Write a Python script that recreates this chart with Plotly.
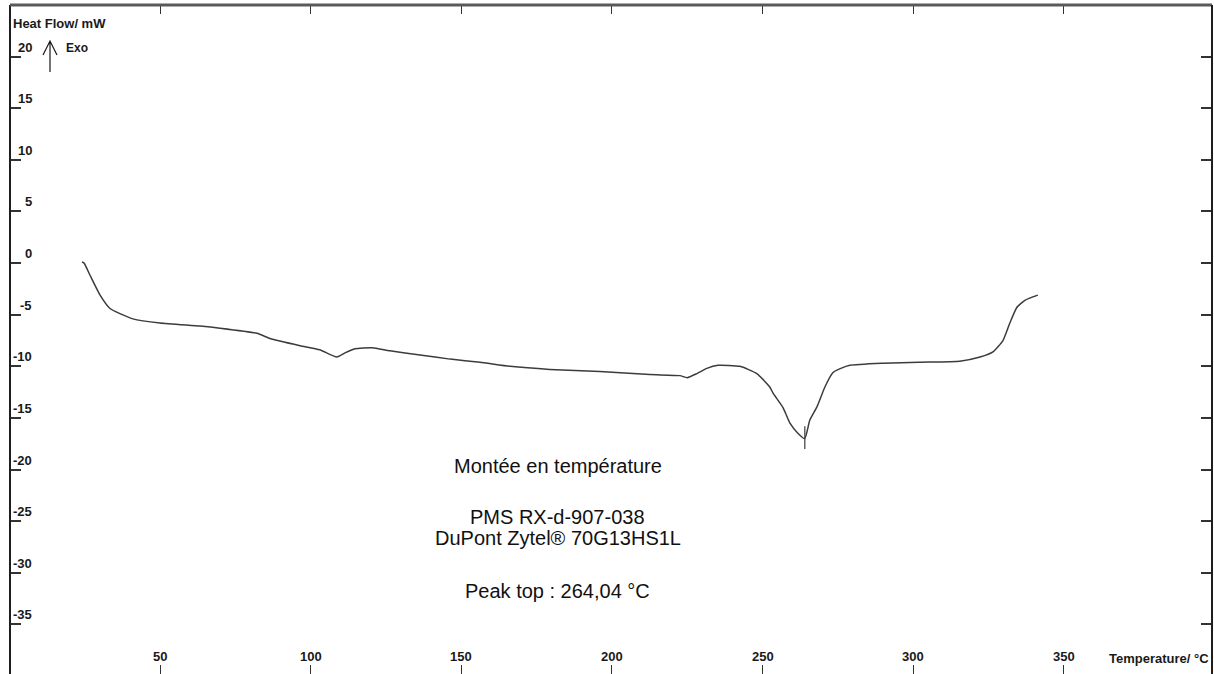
import plotly.graph_objects as go

# ---- data ----
temperature = [24.1, 24.8, 26.8, 30.1, 33.4, 36.7, 41.0, 50.0, 63.3, 69.9, 82.2, 86.5,
               96.5, 103.0, 108.7, 111.4, 114.7, 120.4, 126.3, 136.3, 146.3, 156.2,
               166.2, 179.4, 196.0, 212.6, 222.6, 225.0, 228.2, 231.5, 235.2, 242.5,
               248.1, 252.4, 253.5, 256.8, 259.1, 261.8, 264.0, 265.7, 268.1, 270.7,
               273.4, 276.0, 279.0, 290.0, 302.0, 315.5, 322.2, 326.5, 329.8, 332.1,
               334.4, 337.1, 341.4]
heat_flow = [0.1, 0.0, -1.2, -3.1, -4.4, -4.9, -5.4, -5.8, -6.1, -6.3, -6.8, -7.3,
             -8.0, -8.4, -9.1, -8.7, -8.3, -8.2, -8.5, -8.9, -9.3, -9.6,
             -10.0, -10.3, -10.5, -10.8, -10.9, -11.1, -10.7, -10.2, -9.9, -10.0,
             -10.7, -12.0, -12.6, -14.0, -15.5, -16.5, -17.0, -15.2, -13.9, -12.0,
             -10.6, -10.2, -9.9, -9.7, -9.6, -9.5, -9.1, -8.6, -7.5, -5.8,
             -4.3, -3.6, -3.1]

peak_top = 264.04
peak_marker_y = [-15.8, -18.0]

x_ticks = [50, 100, 150, 200, 250, 300, 350]
y_ticks = [20, 15, 10, 5, 0, -5, -10, -15, -20, -25, -30, -35]

x_range = [0.2, 399.2]
y_range = [-39.8, 25.0]

info_lines = [
    ("Montée en température", -19.7),
    ("PMS RX-d-907-038", -24.6),
    ("DuPont Zytel® 70G13HS1L", -26.6),
    ("Peak top : 264,04 °C", -31.8),
]

fig = go.Figure()
fig.add_trace(go.Scatter(x=temperature, y=heat_flow, mode="lines",
                         line=dict(color="#3c3c3c", width=1.5, shape="spline",
                                   smoothing=0.5),
                         hoverinfo="skip"))
fig.add_trace(go.Scatter(x=[peak_top, peak_top], y=peak_marker_y, mode="lines",
                         line=dict(color="#3c3c3c", width=1.2), hoverinfo="skip"))

FONT = "Liberation Sans, Arial, sans-serif"
lab_font = dict(family=FONT, size=13, color="#1a1a1a")

ann = []
for v in y_ticks:
    ann.append(dict(x=0, xref="paper", y=v, yref="y", text="<b>%d</b>" % v,
                    showarrow=False, xanchor="right", yanchor="bottom",
                    xshift=24, yshift=0, font=lab_font))
for v in x_ticks:
    ann.append(dict(x=v, xref="x", y=0, yref="paper", text="<b>%d</b>" % v,
                    showarrow=False, xanchor="center", yanchor="bottom",
                    yshift=8, font=lab_font))
ann.append(dict(x=1, xref="paper", y=0, yref="paper", text="<b>Temperature/ °C</b>",
                showarrow=False, xanchor="right", yanchor="bottom", xshift=-1,
                yshift=6, font=lab_font))
ann.append(dict(x=0, xref="paper", y=1, yref="paper", text="<b>Heat Flow/ mW</b>",
                showarrow=False, xanchor="left", yanchor="top", xshift=1,
                yshift=-9, font=lab_font))
ann.append(dict(x=0, xref="paper", y=1, yref="paper", text="<b>Exo</b>",
                showarrow=False, xanchor="left", yanchor="top", xshift=54,
                yshift=-34, font=dict(family=FONT, size=12, color="#1a1a1a")))
for txt, yv in info_lines:
    ann.append(dict(x=182, xref="x", y=yv, yref="y", text=txt, showarrow=False,
                    xanchor="center", yanchor="middle",
                    font=dict(family=FONT, size=20, color="#111111")))

shapes = [
    # frame: left, top, right
    dict(type="line", xref="paper", yref="paper", x0=0, x1=0, y0=0, y1=1,
         line=dict(color="#1e1e1e", width=2)),
    dict(type="line", xref="paper", yref="paper", x0=0, x1=1, y0=1, y1=1,
         line=dict(color="#5a5a5a", width=3)),
    dict(type="line", xref="paper", yref="paper", x0=1, x1=1, y0=0, y1=1,
         line=dict(color="#1e1e1e", width=2)),
    # Exo arrow
    dict(type="path", xref="paper", yref="paper", xsizemode="pixel", ysizemode="pixel",
         xanchor=0, yanchor=1,
         path="M40,-67 L40,-36 M33,-50 L40,-36 L47,-50",
         line=dict(color="#1a1a1a", width=1.2)),
]

fig.update_layout(
    width=1214, height=674,
    margin=dict(l=10, r=2, t=5, b=0),
    paper_bgcolor="white", plot_bgcolor="white",
    showlegend=False,
    annotations=ann, shapes=shapes,
    xaxis=dict(range=x_range, tickvals=x_ticks, showticklabels=False,
               ticks="inside", ticklen=9, tickwidth=1.2, tickcolor="#333333",
               mirror="ticks", showgrid=False, zeroline=False, showline=False),
    yaxis=dict(range=y_range, tickvals=y_ticks, showticklabels=False,
               ticks="inside", ticklen=11, tickwidth=1.5, tickcolor="#333333",
               mirror="ticks", showgrid=False, zeroline=False, showline=False),
)

fig.write_html("out.html",
               config={"displayModeBar": False},
               post_script="document.body.style.margin='0';"
                           "document.body.style.overflow='hidden';")
